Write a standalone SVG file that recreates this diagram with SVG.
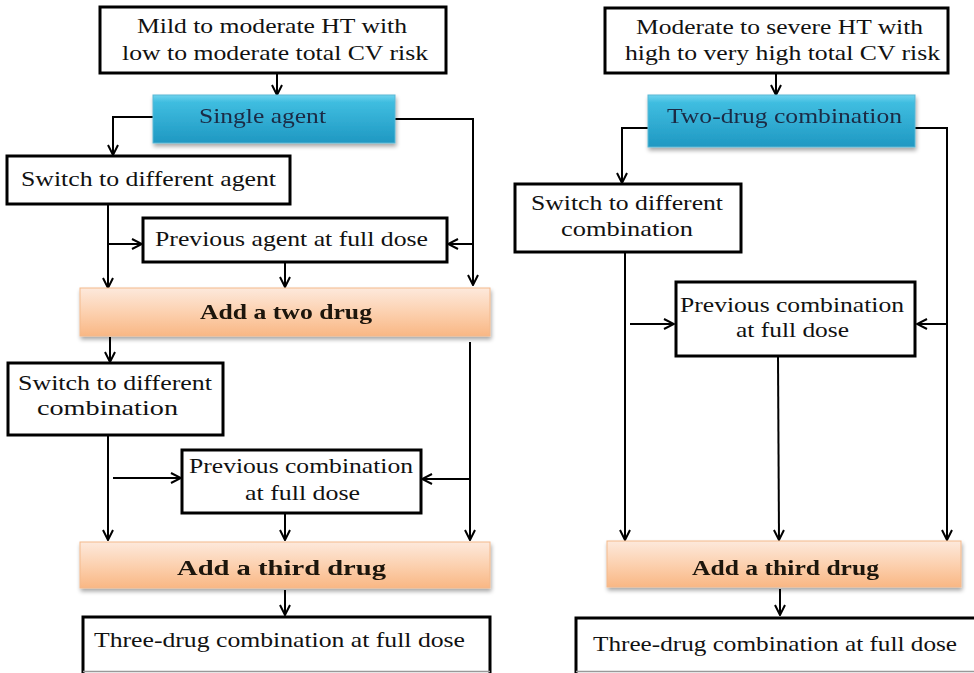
<svg xmlns="http://www.w3.org/2000/svg" width="974" height="673" viewBox="0 0 974 673">
<style>
.box{fill:#fff;stroke:#000;stroke-width:3}
.open{fill:#fff;stroke:#000;stroke-width:3}
.edge{stroke:#999;stroke-width:1.5}
.blue{fill:url(#gBlue);stroke:#5ab7d4;stroke-width:1}
.orange{fill:url(#gOrange);stroke:#f3b98c;stroke-width:1}
text{font-family:'Liberation Serif','Times New Roman',serif;font-size:21px;fill:#111}
.tb{font-size:22px;fill:#1b2a44}
.bold{font-weight:bold;fill:#1a1208}
.conn path{fill:none;stroke:#000;stroke-width:2}
.conn path.a{marker-end:url(#arr)}
</style>
<defs>
<linearGradient id="gBlue" x1="0" y1="0" x2="0" y2="1">
<stop offset="0" stop-color="#6fd3ee"/>
<stop offset="0.15" stop-color="#3fbde0"/>
<stop offset="1" stop-color="#1f98c2"/>
</linearGradient>
<linearGradient id="gOrange" x1="0" y1="0" x2="0" y2="1">
<stop offset="0" stop-color="#fde9dc"/>
<stop offset="0.5" stop-color="#fcd1b0"/>
<stop offset="1" stop-color="#f9b784"/>
</linearGradient>
<filter id="sh" x="-5%" y="-20%" width="110%" height="150%">
<feGaussianBlur in="SourceAlpha" stdDeviation="2"/>
<feOffset dx="1" dy="3" result="b"/>
<feComponentTransfer><feFuncA type="linear" slope="0.35"/></feComponentTransfer>
<feMerge><feMergeNode/><feMergeNode in="SourceGraphic"/></feMerge>
</filter>
<marker id="arr" viewBox="0 0 12 12" refX="11" refY="6" markerWidth="12" markerHeight="12" markerUnits="userSpaceOnUse" orient="auto">
<path d="M1,1 L11,6 L1,11" fill="none" stroke="#000" stroke-width="2"/>
</marker>
</defs>
<rect width="974" height="673" fill="#fff"/>

<g class="conn" id="connectors">
<path class="a" d="M277,73 V95"/>
<path class="a" d="M153,117 H113 V155"/>
<path class="a" d="M395,119 H473 V285"/>
<path class="a" d="M108,204 V288"/>
<path class="a" d="M108,244 H142"/>
<path class="a" d="M473,244 H448"/>
<path class="a" d="M285,262 V287"/>
<path class="a" d="M110,337 V362"/>
<path class="a" d="M108,435 V540"/>
<path class="a" d="M113,478 H181"/>
<path class="a" d="M470,342 V540"/>
<path class="a" d="M470,479 H422"/>
<path class="a" d="M285,513 V540"/>
<path class="a" d="M285,590 V615"/>
<path class="a" d="M776,73 V95"/>
<path class="a" d="M648,128 H622 V183"/>
<path class="a" d="M915,128 H947 V540"/>
<path class="a" d="M625,252 V540"/>
<path class="a" d="M630,324 H674"/>
<path class="a" d="M947,324 H917"/>
<path class="a" d="M778,356 L779,540"/>
<path class="a" d="M780,589 V615"/>
</g>

<g id="n_mild">
<rect class="box" x="100" y="7" width="346" height="66"/>
<text x="137" y="33" textLength="270" lengthAdjust="spacingAndGlyphs">Mild to moderate HT with</text>
<text x="122" y="60" textLength="306" lengthAdjust="spacingAndGlyphs">low to moderate total CV risk</text>
</g>
<g id="n_single" filter="url(#sh)">
<rect class="blue" x="153" y="95" width="242" height="48"/>
<text class="tb" x="199" y="123" textLength="127" lengthAdjust="spacingAndGlyphs">Single  agent</text>
</g>
<g id="n_switch_agent">
<rect class="box" x="7" y="156" width="283" height="48"/>
<text x="21" y="186" textLength="255" lengthAdjust="spacingAndGlyphs">Switch to different agent</text>
</g>
<g id="n_prev_agent">
<rect class="box" x="143" y="218" width="304" height="44"/>
<text x="155" y="246" textLength="273" lengthAdjust="spacingAndGlyphs">Previous agent at full dose</text>
</g>
<g id="n_add_two" filter="url(#sh)">
<rect class="orange" x="80" y="288" width="410" height="48"/>
<text class="bold" x="200" y="319" font-size="22" textLength="172" lengthAdjust="spacingAndGlyphs">Add a two drug</text>
</g>
<g id="n_switch_combo_l">
<rect class="box" x="8" y="363" width="215" height="72"/>
<text x="18" y="390" textLength="194" lengthAdjust="spacingAndGlyphs">Switch to different</text>
<text x="37" y="415" textLength="141" lengthAdjust="spacingAndGlyphs">combination</text>
</g>
<g id="n_prev_combo_l">
<rect class="box" x="182" y="450" width="239" height="63"/>
<text x="189" y="473" textLength="224" lengthAdjust="spacingAndGlyphs">Previous combination</text>
<text x="245" y="500" textLength="115" lengthAdjust="spacingAndGlyphs">at full dose</text>
</g>
<g id="n_add_third_l" filter="url(#sh)">
<rect class="orange" x="80" y="542" width="410" height="46"/>
<text class="bold" x="177" y="575" font-size="25" textLength="209" lengthAdjust="spacingAndGlyphs">Add a third drug</text>
</g>
<g id="n_three_l">
<path class="open" d="M83,673 V617 H490 V673"/>
<path class="edge" d="M83,671.5 H490"/>
<text x="94" y="647" textLength="371" lengthAdjust="spacingAndGlyphs">Three-drug combination at full dose</text>
</g>

<g id="n_mod">
<rect class="box" x="605" y="8" width="343" height="65"/>
<text x="636" y="34" textLength="287" lengthAdjust="spacingAndGlyphs">Moderate to severe HT with</text>
<text x="625" y="60" textLength="315" lengthAdjust="spacingAndGlyphs">high to very high total CV risk</text>
</g>
<g id="n_twodrug" filter="url(#sh)">
<rect class="blue" x="648" y="95" width="267" height="52"/>
<text class="tb" x="667" y="123" textLength="235" lengthAdjust="spacingAndGlyphs">Two-drug combination</text>
</g>
<g id="n_switch_combo_r">
<rect class="box" x="515" y="184" width="226" height="68"/>
<text x="531" y="210" textLength="192" lengthAdjust="spacingAndGlyphs">Switch to different</text>
<text x="561" y="236" textLength="132" lengthAdjust="spacingAndGlyphs">combination</text>
</g>
<g id="n_prev_combo_r">
<rect class="box" x="676" y="282" width="239" height="74"/>
<text x="680" y="312" textLength="224" lengthAdjust="spacingAndGlyphs">Previous combination</text>
<text x="736" y="337" textLength="113" lengthAdjust="spacingAndGlyphs">at full dose</text>
</g>
<g id="n_add_third_r" filter="url(#sh)">
<rect class="orange" x="607" y="541" width="354" height="46"/>
<text class="bold" x="692" y="575" font-size="22" textLength="187" lengthAdjust="spacingAndGlyphs">Add a third drug</text>
</g>
<g id="n_three_r">
<path class="open" d="M576,673 V618 H976"/>
<path class="edge" d="M576,671.5 H974"/>
<text x="593" y="651" textLength="364" lengthAdjust="spacingAndGlyphs">Three-drug combination at full dose</text>
</g>
</svg>
